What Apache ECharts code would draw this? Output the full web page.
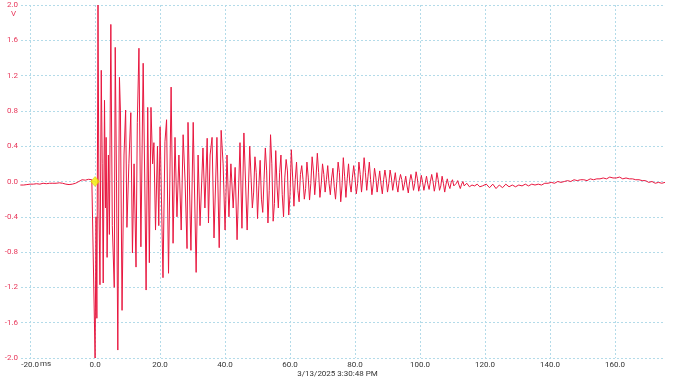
<!DOCTYPE html>
<html><head><meta charset="utf-8">
<script src="https://cdn.jsdelivr.net/npm/echarts@6/dist/echarts.min.js"></script>
<style>html,body{margin:0;padding:0;background:#fff}#c{width:675px;height:380px}</style>
</head><body><div id="c"></div>
<script>
// Pre-trigger baseline (ms, V)
const preStart = -23, preStep = 1;
const preVolts = [-0.04,-0.04,-0.035,-0.03,-0.03,-0.025,-0.03,-0.02,-0.025,-0.02,-0.02,-0.02,-0.015,-0.02,-0.03,-0.035,-0.03,-0.02,0.0,0.02,0.015,0.025,0.02];

// Burst after trigger: sample times (ms) and volts
const burstTimes = [0.0,0.3,0.55,0.9,1.2,1.5,1.9,2.2,2.5,2.9,3.2,3.4,3.7,4.1,4.4,4.85,5.3,5.9,6.2,6.6,7.0,7.5,7.8,8.3,8.9,9.4,9.8,10.4,11.0,11.5,12.0,12.6,13.0,13.5,14.1,14.8,15.4,15.7,16.2,16.7,17.2,17.7,18.1,18.6,19.2,19.6,20.0,
  20.9,21.5,22.0,22.6,23.4,24.0,24.6,25.2,25.8,26.5,27.1,27.7,28.3,28.6,29.5,30.2,31.1,31.7,32.3,33.2,33.8,34.5,34.9,35.4,36.0,36.6,37.5,38.2,38.8,39.4,40.0,40.6,41.2,41.8,42.5,43.1,43.7,44.6,45.2,45.8,46.8];
const burstVolts = [-2.0,-0.4,-1.55,2.0,-0.3,-1.17,1.26,0.2,-1.15,0.92,-0.3,0.5,-0.86,0.3,-0.6,1.78,-0.5,-1.2,1.52,0.0,-1.91,1.18,0.8,-1.46,0.3,0.81,-0.52,0.2,0.78,-0.81,0.2,-0.97,0.67,1.51,-0.74,1.34,-0.3,-1.23,0.84,-0.92,0.84,0.2,0.44,-0.55,0.4,-0.5,0.62,
  -1.09,0.45,0.70,-1.04,1.07,-0.70,0.50,-0.40,0.30,-0.55,0.53,0.0,-0.76,0.67,-0.78,0.67,-1.03,0.30,-0.50,0.38,-0.30,0.49,-0.47,0.30,0.50,-0.64,0.50,-0.75,0.58,0.20,-0.55,0.30,-0.40,0.20,-0.30,0.16,-0.66,0.44,-0.53,0.55,-0.55];

// Ringing decay, regularly sampled
const ringStart = 47.6, ringStep = 0.4;
const ringVolts = [
  0.40,0.05,-0.30,-0.12,0.28,0.10,-0.42,-0.05,0.24,-0.20,-0.35,0.02,0.38,0.12,-0.47,-0.10,0.53,0.20,-0.45,-0.25,
  0.35,-0.05,-0.30,0.10,0.30,-0.15,-0.40,0.05,0.25,0.12,-0.38,-0.15,0.36,0.05,-0.28,0.02,0.22,-0.10,-0.23,0.08,
  0.18,0.02,-0.20,-0.08,0.22,0.05,-0.21,-0.02,0.28,0.12,-0.15,0.05,0.32,0.10,-0.18,-0.03,0.20,0.08,-0.12,0.02,
  0.18,-0.02,-0.15,0.04,0.15,-0.06,-0.20,0.00,0.22,0.10,-0.23,-0.05,0.27,0.06,-0.18,0.03,0.20,-0.02,-0.12,0.05,
  0.18,0.04,-0.14,-0.02,0.22,0.08,-0.12,0.04,0.27,0.10,-0.10,0.06,0.22,0.02,-0.15,-0.03,0.15,0.05,-0.12,0.00,
  0.12,-0.03,-0.14,0.02,0.13,0.03,-0.12,-0.02,0.13,0.04,-0.10,0.00,0.10,-0.04,-0.12,0.01,0.08,0.02,-0.10,-0.03,
  0.06,-0.05,-0.13,0.00,0.08,0.01,-0.10,-0.02,0.11,0.03,-0.11,-0.04,0.07,-0.01,-0.10,-0.02,0.06,-0.03,-0.09,0.00,
  0.08,0.00,-0.11,-0.03,0.10,0.02,-0.10,-0.05,0.06,-0.02,-0.12,-0.03,0.03,-0.04,-0.08,-0.01,0.02,-0.05,-0.07,-0.02,
  0.01,-0.04,-0.08,-0.03,0.00,-0.05,-0.07,-0.02,-0.01,-0.06,-0.08,-0.04,-0.02,-0.05,-0.07,-0.03,-0.02,-0.06,-0.08,-0.05,
  -0.03];

// Tail
const tailStart = 120.4, tailStep = 1;
const tailVolts = [-0.03,-0.07,-0.03,-0.08,-0.04,-0.07,-0.03,-0.06,-0.04,-0.06,-0.04,-0.05,-0.03,-0.05,-0.03,-0.04,-0.03,-0.04,-0.02,-0.02,
  -0.01,-0.02,0.00,-0.01,0.00,0.01,0.00,0.02,0.01,0.02,0.02,0.01,0.03,0.02,0.03,0.03,0.04,0.03,0.05,0.04,
  0.04,0.05,0.03,0.04,0.03,0.03,0.02,0.02,0.01,0.01,-0.01,0.00,-0.02,-0.01,-0.02,-0.01];

const triggerPoint = [0, 0];
const timestamp = '3/13/2025 3:30:48 PM';
const unitY = 'V';
const unitX = 'ms';

const trace = [];
preVolts.forEach((v, i) => trace.push([preStart + i * preStep, v]));
burstVolts.forEach((v, i) => trace.push([burstTimes[i], v]));
ringVolts.forEach((v, i) => trace.push([+(ringStart + i * ringStep).toFixed(2), v]));
tailVolts.forEach((v, i) => trace.push([+(tailStart + i * tailStep).toFixed(2), v]));

const gridColor = '#b3dbe9';
const chart = echarts.init(document.getElementById('c'), null, {renderer: 'canvas'});
chart.setOption({
  animation: false,
  backgroundColor: '#fff',
  grid: {left: 21, right: 10, top: 5, bottom: 22, containLabel: false},
  xAxis: {
    type: 'value', min: -22.8, max: 175.4, splitNumber: 10,
    axisLine: {show: false}, axisTick: {show: false},
    splitLine: {show: true, showMinLine: false, showMaxLine: false, lineStyle: {color: gridColor, type: [2, 2], width: 1}},
    axisLabel: {
      color: '#333', fontSize: 8, fontFamily: 'Roboto', margin: 3,
      showMinLabel: false, showMaxLabel: false,
      formatter: v => (Math.abs(v % 20) < 1e-6 ? (Math.abs(v) < 1e-9 ? '0.0' : v.toFixed(1)) : '')
    }
  },
  yAxis: {
    type: 'value', min: -2, max: 2, interval: 0.4,
    axisLine: {show: false}, axisTick: {show: false},
    splitLine: {show: true, lineStyle: {color: gridColor, type: [2, 2], width: 1}},
    axisLabel: {
      color: '#e8375a', fontSize: 8, fontFamily: 'Roboto', margin: 3,
      formatter: v => (Math.abs(v) < 1e-9 ? '0.0' : v.toFixed(1))
    }
  },
  series: [
    {type: 'line', data: trace, showSymbol: false, symbol: 'none', lineStyle: {color: '#e8173f', width: 1}, z: 3},
    {type: 'scatter', data: [triggerPoint], symbol: 'diamond', symbolSize: [9, 10],
     itemStyle: {color: '#f2ee00', borderColor: '#c8c000', borderWidth: 0.5}, z: 5}
  ],
  graphic: [
    {type: 'text', left: 11, top: 10, style: {text: unitY, fill: '#e8375a', fontSize: 8, fontFamily: 'Roboto'}},
    {type: 'text', left: 40, top: 360, style: {text: unitX, fill: '#333', fontSize: 8, fontFamily: 'Roboto'}},
    {type: 'text', left: 'center', top: 370, style: {text: timestamp, fill: '#333', fontSize: 8, fontFamily: 'Roboto'}}
  ]
});
</script>
</body></html>
